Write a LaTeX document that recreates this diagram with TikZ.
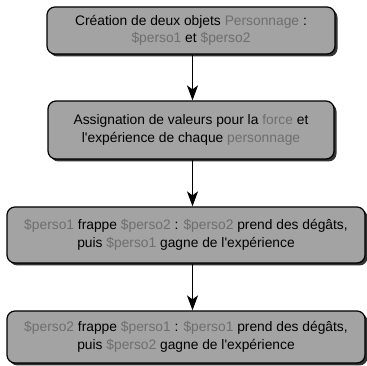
\documentclass[tikz,border=0pt]{standalone}
\usepackage{fontspec}
\setmainfont{Liberation Sans}
\usetikzlibrary{shadows,arrows.meta}
\definecolor{boxgray}{HTML}{A3A3A3}
\definecolor{textgray}{HTML}{6E6E6E}
\newcommand{\objname}[1]{\textcolor{textgray}{#1}}

\begin{document}
\begin{tikzpicture}[
		x=1pt, y=1pt,
		every node/.style={rectangle, draw, rounded corners=8pt, line width=1.2pt,
			fill=boxgray, align=center, inner sep=0pt,
			font=\fontsize{13.8}{17.5}\selectfont,
			drop shadow={shadow xshift=2.5pt, shadow yshift=-2.5pt, fill=black!80, opacity=1}},
		flow/.style={line width=1.2pt, -{Stealth[length=15pt, width=11pt, inset=4pt]}}
	]
  \useasboundingbox (0,0) rectangle (366,366);
  \node (creation) [minimum width=288, minimum height=47] at (191, 335.5)
    {Création de deux objets \objname{Personnage} :\\ \objname{\$perso1} et \objname{\$perso2}};
  \node (assign) [minimum width=286, minimum height=58] at (191, 236)
    {Assignation de valeurs pour la \objname{force} et\\ l\textquotesingle expérience de chaque \objname{personnage}};
  \node (hit_a) [minimum width=358, minimum height=56] at (186, 131)
    {\objname{\$perso1} frappe \objname{\$perso2} : \objname{\$perso2} prend des dégâts,\\ puis \objname{\$perso1} gagne de l\textquotesingle expérience};
  \node (hit_b) [minimum width=358, minimum height=52] at (186, 29)
    {\objname{\$perso2} frappe \objname{\$perso1} : \objname{\$perso1} prend des dégâts,\\ puis \objname{\$perso2} gagne de l\textquotesingle expérience};
  \coordinate (axis) at (192.5, 0);
  \draw [flow] (axis |- creation.south) -- (axis |- assign.north);
  \draw [flow] (axis |- assign.south) -- (axis |- hit_a.north);
  \draw [flow] (axis |- hit_a.south) -- (axis |- hit_b.north);
\end{tikzpicture}
\end{document}
